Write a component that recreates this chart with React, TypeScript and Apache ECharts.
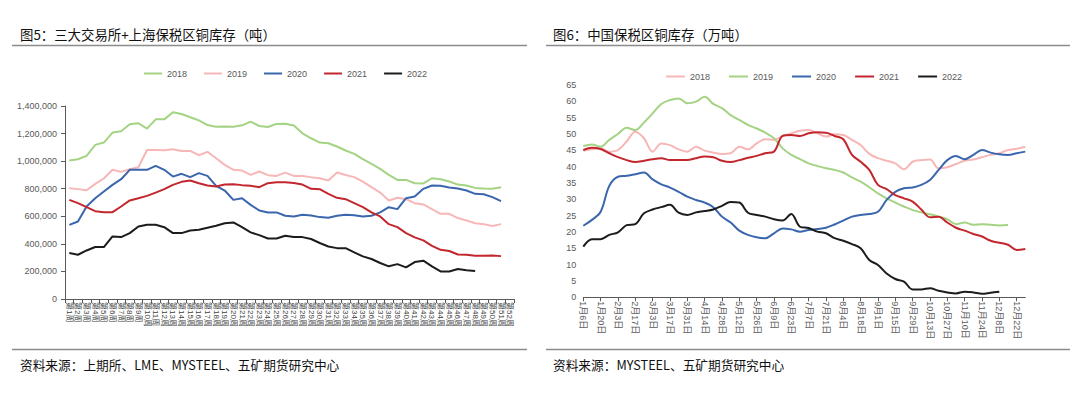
import React, { useEffect, useRef } from "react";
import * as echarts from "echarts";

const years = ["2018", "2019", "2020", "2021", "2022"];

const weekLabels = [
  "第1周", "第2周", "第3周", "第4周", "第5周", "第6周", "第7周", "第8周", "第9周", "第10周",
  "第11周", "第12周", "第13周", "第14周", "第15周", "第16周", "第17周", "第18周", "第19周", "第20周",
  "第21周", "第22周", "第23周", "第24周", "第25周", "第26周", "第27周", "第28周", "第29周", "第30周",
  "第31周", "第32周", "第33周", "第34周", "第35周", "第36周", "第37周", "第38周", "第39周", "第40周",
  "第41周", "第42周", "第43周", "第44周", "第45周", "第46周", "第47周", "第48周", "第49周", "第50周",
  "第51周", "第52周",
];

const dateLabels = [
  "1月6日", "1月13日", "1月20日", "1月27日", "2月3日", "2月10日", "2月17日", "2月24日",
  "3月3日", "3月10日", "3月17日", "3月24日", "3月31日", "4月7日", "4月14日", "4月21日", "4月28日",
  "5月5日", "5月12日", "5月19日", "5月26日", "6月2日", "6月9日", "6月16日", "6月23日", "6月30日",
  "7月7日", "7月14日", "7月21日", "7月28日", "8月4日", "8月11日", "8月18日", "8月25日",
  "9月1日", "9月8日", "9月15日", "9月22日", "9月29日", "10月6日", "10月13日", "10月20日", "10月27日",
  "11月3日", "11月10日", "11月17日", "11月24日", "12月1日", "12月8日", "12月15日", "12月22日", "12月29日",
];

// Figure 5: exchanges + Shanghai bonded copper stocks (tonnes)
const stock2018 = [
  1004000, 1014000, 1038000, 1118000, 1135000, 1207000, 1217000, 1267000, 1275000, 1236000,
  1303000, 1303000, 1354000, 1342000, 1318000, 1296000, 1262000, 1250000, 1252000, 1250000,
  1260000, 1287000, 1255000, 1248000, 1270000, 1271000, 1258000, 1202000, 1166000, 1135000,
  1130000, 1106000, 1077000, 1053000, 1014000, 980000, 944000, 900000, 864000, 864000,
  840000, 838000, 876000, 869000, 852000, 830000, 823000, 806000, 801000, 799000, 811000,
];
const stock2019 = [
  804000, 797000, 789000, 835000, 874000, 937000, 922000, 941000, 956000, 1081000,
  1081000, 1079000, 1086000, 1074000, 1074000, 1043000, 1067000, 1021000, 973000, 937000,
  932000, 900000, 925000, 898000, 893000, 917000, 893000, 893000, 884000, 876000,
  859000, 917000, 900000, 884000, 852000, 811000, 772000, 715000, 734000, 724000,
  695000, 686000, 652000, 618000, 618000, 587000, 570000, 550000, 543000, 529000, 543000,
];
const stock2020 = [
  538000, 562000, 671000, 731000, 780000, 828000, 869000, 937000, 937000, 937000,
  966000, 937000, 888000, 908000, 884000, 913000, 893000, 821000, 787000, 719000,
  731000, 683000, 642000, 628000, 628000, 604000, 599000, 611000, 606000, 594000,
  589000, 604000, 611000, 608000, 599000, 604000, 628000, 666000, 652000, 731000,
  744000, 799000, 823000, 821000, 809000, 801000, 787000, 763000, 760000, 739000, 710000,
];
const stock2021 = [
  719000, 695000, 666000, 637000, 630000, 630000, 671000, 715000, 731000, 748000,
  772000, 797000, 828000, 850000, 859000, 840000, 823000, 816000, 830000, 833000,
  826000, 821000, 811000, 840000, 847000, 847000, 842000, 830000, 799000, 797000,
  763000, 734000, 724000, 695000, 666000, 628000, 599000, 543000, 521000, 478000,
  447000, 425000, 386000, 357000, 348000, 323000, 321000, 314000, 314000, 316000, 311000,
];
const stock2022 = [
  333000, 321000, 352000, 377000, 377000, 454000, 449000, 478000, 526000, 538000,
  538000, 521000, 478000, 478000, 497000, 502000, 517000, 531000, 550000, 555000,
  521000, 483000, 463000, 439000, 439000, 459000, 449000, 449000, 435000, 406000,
  381000, 369000, 369000, 338000, 309000, 290000, 261000, 237000, 253000, 229000,
  268000, 278000, 237000, 200000, 200000, 217000, 208000, 203000,
];

// Figure 6: China bonded-zone copper stocks (10k tonnes)
const bonded2018 = [
  44.9, 45.3, 45.6, 44.6, 45.1, 47.7, 50.7, 48.7, 44.6, 47.1,
  46.6, 45.3, 44.6, 46.1, 44.9, 44.3, 43.9, 44.1, 46.1, 45.3,
  47.1, 48.4, 48.2, 49.4, 50.2, 51.0, 51.2, 50.2, 49.2, 49.9,
  49.7, 48.2, 46.6, 43.9, 42.6, 41.8, 41.0, 39.2, 41.5, 42.0,
  42.2, 39.5, 39.8, 40.8, 41.8, 42.2, 42.9, 43.6, 44.1, 45.1,
  45.5, 46.0,
];
const bonded2019 = [
  46.3, 46.8, 46.1, 48.2, 50.0, 51.9, 51.2, 53.5, 56.3, 59.2,
  60.4, 60.9, 59.4, 59.9, 61.4, 59.2, 57.9, 55.8, 54.3, 52.8,
  51.7, 50.4, 48.7, 45.6, 43.6, 42.3, 41.0, 40.2, 39.5, 39.0,
  38.2, 36.7, 35.4, 33.7, 31.8, 30.3, 29.0, 27.8, 26.7, 26.0,
  25.4, 24.7, 23.9, 22.4, 22.9, 22.2, 22.4, 22.2, 22.0, 22.1,
];
const bonded2020 = [
  21.9, 23.7, 26.2, 34.1, 36.9, 37.2, 37.7, 38.2, 36.1, 34.6,
  33.6, 32.3, 30.8, 29.8, 29.0, 27.6, 24.7, 22.9, 20.4, 19.1,
  18.4, 18.1, 19.6, 21.1, 20.8, 20.1, 20.6, 20.9, 21.3, 22.3,
  23.5, 24.7, 25.2, 25.5, 26.2, 29.8, 32.3, 33.4, 33.6, 34.4,
  35.9, 39.0, 42.0, 43.3, 42.3, 43.6, 45.1, 44.3, 43.8, 43.6,
  44.1, 44.6,
];
const bonded2021 = [
  45.1, 45.8, 45.4, 44.1, 42.9, 42.0, 41.4, 41.8, 42.3, 42.6,
  42.0, 42.0, 42.0, 42.6, 43.1, 42.9, 41.8, 41.4, 42.0, 42.7,
  43.3, 44.1, 44.6, 49.4, 49.7, 49.4, 50.2, 50.5, 50.4, 49.4,
  48.4, 43.6, 41.5, 39.0, 34.4, 33.1, 31.3, 30.3, 29.3, 26.9,
  24.5, 24.7, 22.9, 21.3, 20.4, 19.4, 18.6, 17.3, 16.7, 16.1,
  14.5, 14.8,
];
const bonded2022 = [
  15.5, 17.8, 17.8, 19.1, 19.9, 22.1, 22.4, 25.7, 26.9, 27.6,
  28.3, 25.9, 25.2, 26.0, 26.4, 26.9, 28.0, 29.2, 29.0, 25.9,
  25.2, 24.7, 23.9, 23.5, 25.5, 21.6, 21.2, 20.1, 19.6, 18.1,
  17.3, 16.3, 15.0, 11.4, 9.9, 7.3, 5.6, 4.8, 2.4, 2.4,
  2.8, 2.0, 1.5, 1.2, 1.7, 1.5, 1.1, 1.4, 1.7,
];

const stockSeries = [stock2018, stock2019, stock2020, stock2021, stock2022];
const bondedSeries = [bonded2018, bonded2019, bonded2020, bonded2021, bonded2022];

const GREEN = "#a4d384";
const PINK = "#f7b7b7";
const BLUE = "#3a66ad";
const RED = "#c3272e";
const BLACK = "#1c1c1c";

const leftColors = [GREEN, PINK, BLUE, RED, BLACK];
const rightColors = [PINK, GREEN, BLUE, RED, BLACK];

const CJK = "'Noto Sans CJK SC', sans-serif";
const LAT = "'Liberation Sans', 'Noto Sans CJK SC', sans-serif";
const AXIS_GRAY = "#595959";

function frame(title: string, source: string, tx: number, lx1: number, lx2: number) {
  return [
    {
      type: "text",
      x: tx,
      y: 34,
      style: { text: title, font: `13.4px ${CJK}`, fill: "#111", verticalAlign: "middle" },
    },
    {
      type: "line",
      shape: { x1: lx1, y1: 45.5, x2: lx2, y2: 45.5 },
      style: { stroke: "#8c8c8c", lineWidth: 1.5 },
    },
    {
      type: "line",
      shape: { x1: lx1, y1: 349.5, x2: lx2, y2: 349.5 },
      style: { stroke: "#8c8c8c", lineWidth: 1.5 },
    },
    {
      type: "text",
      x: tx,
      y: 364,
      style: { text: source, font: `12.7px ${CJK}`, fill: "#111", verticalAlign: "middle" },
    },
  ];
}

function leftOption(): any {
  return {
    animation: false,
    graphic: frame("图5：三大交易所+上海保税区铜库存（吨）", "资料来源：上期所、LME、MYSTEEL、五矿期货研究中心", 20, 12, 527),
    legend: {
      data: years,
      left: 139,
      top: 64,
      icon: "rect",
      itemWidth: 18,
      itemHeight: 2,
      itemGap: 17,
      textStyle: { fontSize: 9, color: AXIS_GRAY, fontFamily: LAT },
    },
    grid: { left: 65, top: 106, width: 449, height: 193 },
    xAxis: {
      type: "category",
      data: weekLabels,
      boundaryGap: true,
      axisLine: { lineStyle: { color: AXIS_GRAY, width: 1 } },
      axisTick: { show: true, interval: 0, length: 4, lineStyle: { color: AXIS_GRAY } },
      axisLabel: { interval: 0, rotate: -90, fontSize: 8, color: "#404040", fontFamily: LAT, margin: 3 },
      splitLine: { show: false },
    },
    yAxis: {
      type: "value",
      min: 0,
      max: 1400000,
      interval: 200000,
      axisLine: { show: true, lineStyle: { color: AXIS_GRAY, width: 1 } },
      axisTick: { show: true, length: 4, lineStyle: { color: AXIS_GRAY } },
      axisLabel: { fontSize: 9, color: AXIS_GRAY, fontFamily: LAT, margin: 8 },
      splitLine: { show: false },
    },
    series: years.map((y, k) => ({
      name: y,
      type: "line",
      data: stockSeries[k],
      symbol: "none",
      lineStyle: { width: 2, color: leftColors[k] },
      itemStyle: { color: leftColors[k] },
      z: 2 + k,
    })),
  };
}

function rightOption(): any {
  return {
    animation: false,
    graphic: frame("图6：中国保税区铜库存（万吨）", "资料来源：MYSTEEL、五矿期货研究中心", 13, 6, 530),
    legend: {
      data: years,
      left: 121,
      top: 67,
      icon: "rect",
      itemWidth: 19,
      itemHeight: 2,
      itemGap: 19,
      textStyle: { fontSize: 9, color: AXIS_GRAY, fontFamily: LAT },
    },
    grid: { left: 43.3, top: 85, width: 442, height: 212.3 },
    xAxis: {
      type: "category",
      data: dateLabels,
      boundaryGap: false,
      axisLine: { lineStyle: { color: AXIS_GRAY, width: 1 } },
      axisTick: { show: true, interval: 1, length: 4, lineStyle: { color: AXIS_GRAY } },
      axisLabel: { interval: 1, rotate: -90, fontSize: 9, color: AXIS_GRAY, fontFamily: LAT, margin: 4 },
      splitLine: { show: false },
    },
    yAxis: {
      type: "value",
      min: 0,
      max: 65,
      interval: 5,
      axisLine: { show: false },
      axisTick: { show: false },
      axisLabel: { fontSize: 9, color: AXIS_GRAY, fontFamily: LAT, margin: 7 },
      splitLine: { show: false },
    },
    series: years.map((y, k) => ({
      name: y,
      type: "line",
      data: bondedSeries[k],
      symbol: "none",
      smooth: 0.35,
      lineStyle: { width: 2, color: rightColors[k] },
      itemStyle: { color: rightColors[k] },
      z: 2 + k,
    })),
  };
}

function ChartBox({ option, left }: { option: () => any; left: number }) {
  const ref = useRef<HTMLDivElement>(null);
  useEffect(() => {
    if (!ref.current) return;
    const chart = echarts.init(ref.current, undefined, { renderer: "svg" });
    chart.setOption(option());
    return () => chart.dispose();
  }, [option]);
  return (
    <div
      ref={ref}
      style={{ position: "absolute", left, top: 0, width: 540, height: 398 }}
    />
  );
}

export default function App() {
  return (
    <div
      style={{
        position: "fixed",
        left: 0,
        top: 0,
        width: 1080,
        height: 398,
        background: "#fff",
        overflow: "hidden",
      }}
    >
      <ChartBox option={leftOption} left={0} />
      <ChartBox option={rightOption} left={540} />
    </div>
  );
}
